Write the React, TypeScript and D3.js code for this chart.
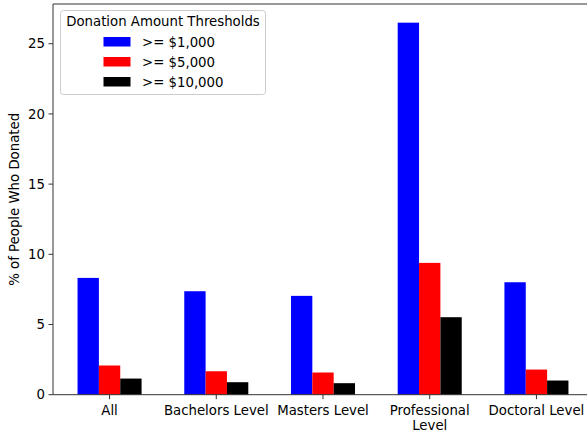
import React from "react";
import * as d3 from "d3";

const categories = ["All", "Bachelors Level", "Masters Level", "Professional\nLevel", "Doctoral Level"];
const seriesNames = [">= $1,000", ">= $5,000", ">= $10,000"];
const seriesColors = ["#0000ff", "#ff0000", "#000000"];
const over1000 = [8.32, 7.37, 7.04, 26.5, 8.01];
const over5000 = [2.08, 1.67, 1.58, 9.39, 1.79];
const over10000 = [1.15, 0.89, 0.82, 5.52, 1.01];
const yTicks = [0, 5, 10, 15, 20, 25];
const legendTitle = "Donation Amount Thresholds";
const yLabel = "% of People Who Donated";

const W = 587;
const H = 435;
const left = 53;
const right = 593;
const top = 4;
const bottom = 394.7;
const font = "DejaVu Sans, sans-serif";
const fs = 13.3;

export default function App() {
  const series = [over1000, over5000, over10000];
  const x = d3.scaleLinear().domain([-0.53, 4.53]).range([left, right]);
  const y = d3.scaleLinear().domain([0, 27.83]).range([bottom, top]);
  const bw = 0.2;
  const axisColor = "#333";
  return (
    <svg width={W} height={H} style={{ position: "absolute", left: 0, top: 0, background: "#fff" }} fontFamily={font}>
      {series.map((vals, si) =>
        vals.map((v, ci) => {
          const x0 = x(ci + (si - 1) * bw - bw / 2);
          const x1 = x(ci + (si - 1) * bw + bw / 2);
          return (
            <rect key={`${si}-${ci}`} x={x0} y={y(v)} width={x1 - x0} height={y(0) - y(v)} fill={seriesColors[si]} />
          );
        })
      )}
      {/* spines */}
      <line x1={left} x2={left} y1={top} y2={bottom} stroke={axisColor} strokeWidth={1} />
      <line x1={left} x2={right} y1={bottom} y2={bottom} stroke={axisColor} strokeWidth={1} />
      <line x1={left} x2={right} y1={top} y2={top} stroke={axisColor} strokeWidth={1} />
      {/* y ticks */}
      {yTicks.map((t) => (
        <g key={t}>
          <line x1={left - 4.5} x2={left} y1={y(t)} y2={y(t)} stroke={axisColor} />
          <text x={left - 8} y={y(t)} dy="0.35em" textAnchor="end" fontSize={fs} fill="#000">
            {t}
          </text>
        </g>
      ))}
      {/* x ticks */}
      {categories.map((c, i) => (
        <g key={c}>
          <line x1={x(i)} x2={x(i)} y1={bottom} y2={bottom + 4.5} stroke={axisColor} />
          {c.split("\n").map((line, li) => (
            <text key={li} x={x(i)} y={bottom + 20 + li * 15.5} textAnchor="middle" fontSize={fs} fill="#000">
              {line}
            </text>
          ))}
        </g>
      ))}
      <text
        transform={`translate(${19},${(top + bottom) / 2}) rotate(-90)`}
        textAnchor="middle"
        fontSize={fs}
        fill="#000"
      >
        {yLabel}
      </text>
      {/* legend */}
      <g>
        <rect x={60.5} y={10.5} width={205} height={84} rx={3} fill="#fff" fillOpacity={0.8} stroke="#ccc" />
        <text x={163} y={26} textAnchor="middle" fontSize={fs} fill="#000">
          {legendTitle}
        </text>
        {seriesNames.map((n, i) => (
          <g key={n}>
            <rect x={103.5} y={37 + i * 20} width={27} height={9.5} fill={seriesColors[i]} />
            <text x={142} y={46.5 + i * 20} fontSize={fs} fill="#000">
              {n}
            </text>
          </g>
        ))}
      </g>
    </svg>
  );
}
